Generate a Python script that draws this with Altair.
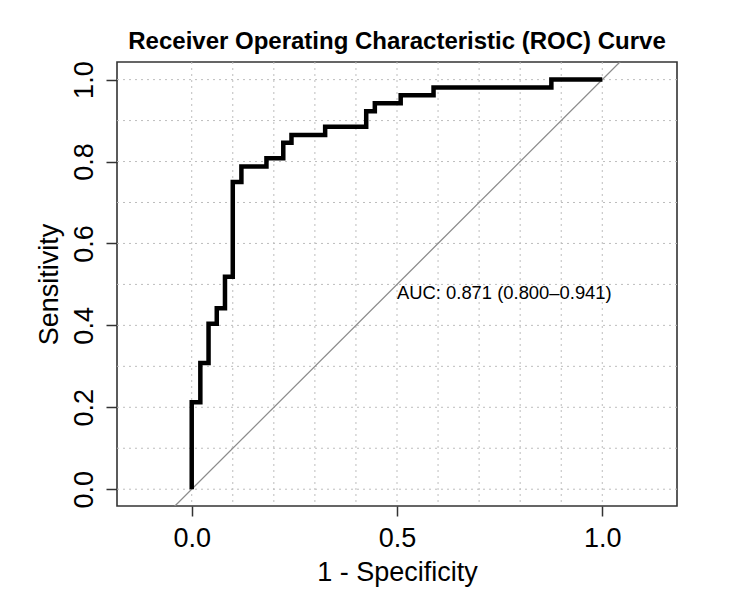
import altair as alt
import pandas as pd

# ROC curve vertices (1 - specificity, sensitivity)
fpr = [0.0, 0.0, 0.021, 0.021, 0.041, 0.041, 0.061, 0.061, 0.081, 0.081,
       0.100, 0.100, 0.121, 0.121, 0.182, 0.182, 0.223, 0.223, 0.243, 0.243,
       0.325, 0.325, 0.425, 0.425, 0.446, 0.446, 0.509, 0.509, 0.589, 0.589,
       0.876, 0.876, 1.0]
tpr = [0.0, 0.212, 0.212, 0.308, 0.308, 0.404, 0.404, 0.442, 0.442, 0.519,
       0.519, 0.750, 0.750, 0.788, 0.788, 0.808, 0.808, 0.846, 0.846, 0.865,
       0.865, 0.885, 0.885, 0.923, 0.923, 0.942, 0.942, 0.962, 0.962, 0.981,
       0.981, 1.0, 1.0]

# reference diagonal (chance line) endpoints
diag = [-0.2, 1.2]

# grid positions
grid_vals = [0.0, 0.1, 0.2, 0.3, 0.4, 0.5, 0.6, 0.7, 0.8, 0.9, 1.0]
x_ticks = [0.0, 0.5, 1.0]
y_ticks = [0.0, 0.2, 0.4, 0.6, 0.8, 1.0]

auc = 0.871
auc_lo = 0.800
auc_hi = 0.941
auc_pos = [0.5, 0.5]

FONT = "Liberation Sans"
W, H = 560, 444

roc_df = pd.DataFrame({"fpr": fpr, "tpr": tpr, "order": list(range(len(fpr)))})
diag_df = pd.DataFrame({"fpr": diag, "tpr": diag})
grid_df = pd.DataFrame({"v": grid_vals})
auc_df = pd.DataFrame({"fpr": [auc_pos[0]], "tpr": [auc_pos[1]],
                       "label": [f"AUC: {auc:.3f} ({auc_lo:.3f}\u2013{auc_hi:.3f})"]})

x_scale = alt.Scale(domain=[-0.182, 1.182], nice=False, zero=False)
y_scale = alt.Scale(domain=[-0.041, 1.043], nice=False, zero=False)

x_axis = alt.Axis(
    values=x_ticks, format=".1f", grid=False, domain=False,
    tickSize=10, tickColor="#333333", tickWidth=1.5,
    labelFont=FONT, labelFontSize=27, labelColor="black",
    labelPadding=30, labelBaseline="alphabetic", labelAlign="center",
    labelFlush=False, labelOverlap=False,
    title="1 - Specificity", titleFont=FONT, titleFontSize=27,
    titleFontWeight="normal", titleColor="black",
    titleX=W / 2, titleY=74, titleAlign="center", titleBaseline="alphabetic",
)
y_axis = alt.Axis(
    values=y_ticks, format=".1f", grid=False, domain=False,
    tickSize=11, tickColor="#333333", tickWidth=1.5,
    labelFont=FONT, labelFontSize=27, labelColor="black",
    labelAngle=270, labelAlign="center", labelBaseline="alphabetic",
    labelPadding=14, labelFlush=False, labelOverlap=False,
    title="Sensitivity", titleFont=FONT, titleFontSize=27,
    titleFontWeight="normal", titleColor="black",
    titleAngle=270, titleX=-60, titleY=H / 2, titleAlign="center",
    titleBaseline="alphabetic",
)

vgrid = alt.Chart(grid_df).mark_rule(color="#bdbdbd", strokeWidth=1, strokeDash=[2, 4]).encode(
    x=alt.X("v:Q", scale=x_scale, axis=x_axis)
)
hgrid = alt.Chart(grid_df).mark_rule(color="#bdbdbd", strokeWidth=1, strokeDash=[2, 4]).encode(
    y=alt.Y("v:Q", scale=y_scale, axis=y_axis)
)

diag_line = alt.Chart(diag_df).mark_line(color="#8c8c8c", strokeWidth=1.3, clip=True).encode(
    x=alt.X("fpr:Q", scale=x_scale, axis=x_axis),
    y=alt.Y("tpr:Q", scale=y_scale, axis=y_axis),
)

curve = alt.Chart(roc_df).mark_line(color="black", strokeWidth=4.5, strokeJoin="miter", strokeCap="butt").encode(
    x=alt.X("fpr:Q", scale=x_scale, axis=x_axis),
    y=alt.Y("tpr:Q", scale=y_scale, axis=y_axis),
    order="order:Q",
)

auc_text = alt.Chart(auc_df).mark_text(
    font=FONT, fontSize=18.4, color="black", align="left", baseline="top"
).encode(
    x=alt.X("fpr:Q", scale=x_scale, axis=x_axis),
    y=alt.Y("tpr:Q", scale=y_scale, axis=y_axis),
    text="label:N",
)

chart = alt.layer(vgrid, hgrid, diag_line, curve, auc_text).properties(
    width=W, height=H,
    title=alt.TitleParams(
        "Receiver Operating Characteristic (ROC) Curve",
        font=FONT, fontSize=24, fontWeight="bold", color="black",
        anchor="middle", offset=9, dy=21, baseline="alphabetic",
    ),
    autosize=alt.AutoSizeParams(type="none"),
    padding={"left": 117, "top": 62, "right": 73, "bottom": 108},
    background="white",
).configure_view(stroke="#333333", strokeWidth=1.6)

chart.save("out.html", embed_options={"renderer": "svg", "actions": False})
